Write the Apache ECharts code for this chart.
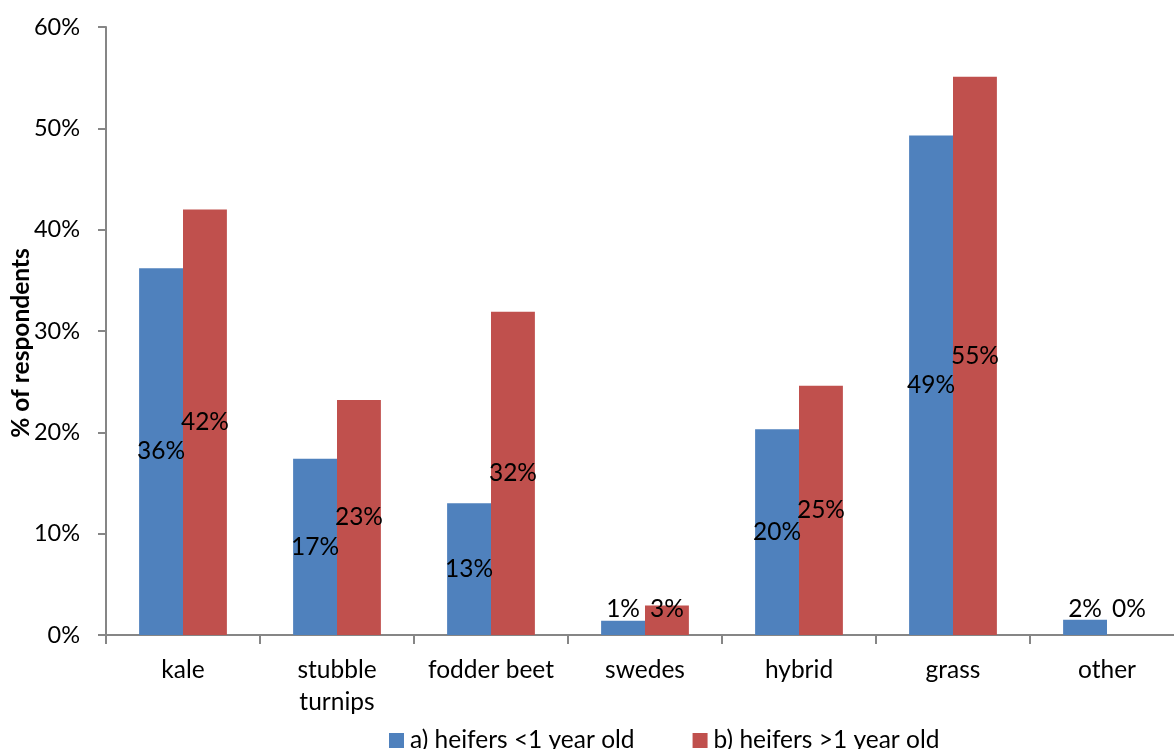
<!DOCTYPE html>
<html>
<head>
<meta charset="utf-8">
<script src="https://cdn.jsdelivr.net/npm/echarts@6/dist/echarts.min.js"></script>
<style>
  html, body { margin: 0; padding: 0; background: #fff; }
  #chart { width: 1174px; height: 749px; }
</style>
</head>
<body>
<div id="chart"></div>
<script>
// Winter feed types used, % of respondents
const categories = ['kale', 'stubble\nturnips', 'fodder beet', 'swedes', 'hybrid', 'grass', 'other'];
const youngHeifers = [36.2, 17.4, 13.0, 1.4, 20.3, 49.3, 1.5];
const olderHeifers = [42.0, 23.2, 31.9, 2.9, 24.6, 55.1, 0.0];
const seriesNames = ['a) heifers <1 year old', 'b) heifers >1 year old'];
const yTicks = { min: 0, max: 60, step: 10 };

const FONT = 'Lato, "Liberation Sans", sans-serif';
const AXIS_GREY = '#868686';
const FS = 24.5;

// small bars get their value label lifted just above the axis
function toData(values) {
  return values.map(v => v < 5
    ? { value: v, label: { position: 'insideBottom', distance: 15 } }
    : v);
}

const labelStyle = {
  show: true,
  position: 'inside',
  color: '#000',
  fontFamily: FONT,
  fontSize: FS,
  lineHeight: 22,
  formatter: p => Math.round(p.value) + '%'
};

const chart = echarts.init(document.getElementById('chart'), null, { renderer: 'canvas' });
chart.setOption({
  animation: false,
  backgroundColor: '#fff',
  textStyle: { fontFamily: FONT },
  grid: { left: 106, top: 27, width: 1078, height: 608, containLabel: false, outerBoundsMode: 'none' },
  legend: {
    left: 384,
    top: 723,
    itemWidth: 15,
    itemHeight: 15,
    itemGap: 58,
    icon: 'rect',
    textStyle: { fontFamily: FONT, fontSize: FS, color: '#000', padding: [0, 0, 0, 1] },
    data: seriesNames
  },
  xAxis: {
    type: 'category',
    data: categories,
    axisLine: { show: true, lineStyle: { color: AXIS_GREY, width: 2 } },
    axisTick: { show: true, alignWithLabel: false, length: 9, lineStyle: { color: AXIS_GREY, width: 2 } },
    axisLabel: {
      interval: 0,
      margin: 19,
      color: '#000',
      fontFamily: FONT,
      fontSize: FS,
      lineHeight: 32
    },
    splitLine: { show: false }
  },
  yAxis: {
    type: 'value',
    min: yTicks.min,
    max: yTicks.max,
    interval: yTicks.step,
    name: '% of respondents',
    nameLocation: 'middle',
    nameGap: 72,
    nameMoveOverlap: false,
    nameRotate: 90,
    nameTextStyle: { fontFamily: FONT, fontSize: FS, fontWeight: 'bold', color: '#000', padding: [0, 24, 0, 0] },
    axisLine: { show: true, lineStyle: { color: AXIS_GREY, width: 2 } },
    axisTick: { show: true, inside: false, length: 8, lineStyle: { color: AXIS_GREY, width: 2 } },
    axisLabel: {
      margin: 26,
      color: '#000',
      fontFamily: FONT,
      fontSize: 23.5,
      formatter: '{value}%'
    },
    splitLine: { show: false }
  },
  series: [
    {
      name: seriesNames[0],
      type: 'bar',
      data: toData(youngHeifers),
      barGap: '0%',
      barCategoryGap: '43%',
      itemStyle: { color: '#4F81BD' },
      label: labelStyle
    },
    {
      name: seriesNames[1],
      type: 'bar',
      data: toData(olderHeifers),
      barGap: '0%',
      barCategoryGap: '43%',
      itemStyle: { color: '#C0504D' },
      label: labelStyle
    }
  ]
});
</script>
</body>
</html>
